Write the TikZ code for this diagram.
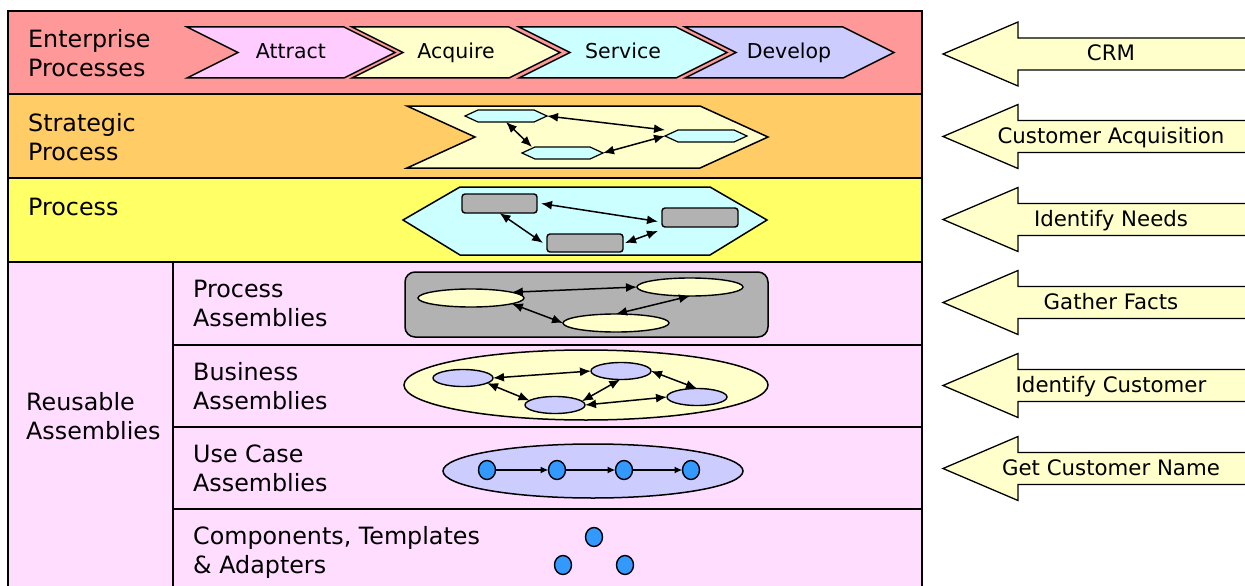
\documentclass[tikz,border=0pt]{standalone}
\usepackage{fontspec}
\setmainfont{DejaVu Sans}
\usetikzlibrary{shapes.geometric,arrows.meta}

\definecolor{entred}{RGB}{255,153,153}
\definecolor{stratorange}{RGB}{255,204,102}
\definecolor{procyellow}{RGB}{255,255,102}
\definecolor{reusepink}{RGB}{255,221,255}
\definecolor{paleyellow}{RGB}{255,255,204}
\definecolor{palecyan}{RGB}{204,255,255}
\definecolor{palepink}{RGB}{255,204,255}
\definecolor{paleblue}{RGB}{204,204,255}
\definecolor{midgray}{RGB}{178,178,178}
\definecolor{dotblue}{RGB}{51,153,255}

% chevron: left x, top y, bottom y, width, point depth, fill
\newcommand{\drawchevron}[6]{%
  \draw[outline, fill=#6] (#1,#2) -- ({#1+#4-#5},#2) -- ({#1+#4},{(#2+#3)/2})
    -- ({#1+#4-#5},#3) -- (#1,#3) -- ({#1+#5},{(#2+#3)/2}) -- cycle;}

% small hexagon node: name, centre x, centre y, width, inset
\newcommand{\hexnode}[5]{%
  \node[hexbox, minimum width=#4pt, minimum height=12pt] (#1) at (#2,#3) {};
  \draw[outline, line width=1.2pt, fill=palecyan] (#1.west) -- ([xshift=#5pt]#1.north west)
    -- ([xshift=-#5pt]#1.north east) -- (#1.east) -- ([xshift=-#5pt]#1.south east)
    -- ([xshift=#5pt]#1.south west) -- cycle;}

% left-pointing block arrow centred at height #1
\newcommand{\sidearrow}[1]{%
  \draw[outline, line width=1.3pt, fill=paleyellow] (943,#1) -- (1018,{#1-32}) -- (1018,{#1-16})
    -- (1260,{#1-16}) -- (1260,{#1+16}) -- (1018,{#1+16}) -- (1018,{#1+32}) -- cycle;}

\begin{document}
\begin{tikzpicture}[x=1pt,y=-1pt,
  rowframe/.style={draw=black, line width=2pt},
  outline/.style={draw=black, line width=1.5pt, line join=miter},
  rowlabel/.style={font=\fontsize{23.8}{29}\selectfont, align=left, anchor=north west, inner sep=0pt},
  steplabel/.style={font=\fontsize{20.5}{25}\selectfont, inner sep=0pt, text height=15pt, text depth=4pt},
  sidelabel/.style={font=\fontsize{21.3}{25}\selectfont, inner sep=0pt, text height=15.5pt, text depth=4pt},
  hexbox/.style={inner sep=0pt, outer sep=0pt},
  box/.style={draw, line width=1.4pt, fill=midgray, rounded corners=3pt, inner sep=0pt, outer sep=0pt},
  oval/.style={ellipse, draw, line width=1.4pt, inner sep=0pt, outer sep=0pt},
  dot/.style={ellipse, draw, line width=1.4pt, fill=dotblue, minimum width=17pt, minimum height=19pt, inner sep=0pt, outer sep=0pt},
  link/.style={line width=1.5pt, {Latex[length=11pt,width=9pt]}-{Latex[length=11pt,width=9pt]}},
  flow/.style={line width=1.5pt, -{Latex[length=8pt,width=7pt]}}]
\useasboundingbox (0,0) rectangle (1245,586);
\begin{scope}
\clip (0,0) rectangle (1245,586);

% layer bands
\draw[rowframe, fill=entred] (8,11) rectangle (922,94);
\draw[rowframe, fill=stratorange] (8,94) rectangle (922,178);
\draw[rowframe, fill=procyellow] (8,178) rectangle (922,262);
\draw[rowframe, fill=reusepink] (8,262) rectangle (922,600);
\draw[rowframe] (173,262) -- (173,600);
\draw[rowframe] (173,345) -- (922,345);
\draw[rowframe] (173,427) -- (922,427);
\draw[rowframe] (173,509) -- (922,509);

% layer names
\node[rowlabel] (lent) at (28,29.5) {Enterprise\\Processes};
\node[rowlabel] (lstr) at (28,113.5) {Strategic\\Process};
\node[rowlabel] (lproc) at (28,197.5) {Process};
\node[rowlabel] (lreu) at (26,392) {Reusable\\Assemblies};
\node[rowlabel] (lpa) at (193,280) {Process\\Assemblies};
\node[rowlabel] (lba) at (193,362.5) {Business\\Assemblies};
\node[rowlabel] (lua) at (193,445) {Use Case\\Assemblies};
\node[rowlabel] (lcta) at (193,526.5) {Components, Templates\\\& Adapters};

% enterprise value chain
\drawchevron{187}{27}{78}{208}{51}{palepink}
\drawchevron{352}{27}{78}{208}{51}{paleyellow}
\drawchevron{519}{27}{78}{208}{51}{palecyan}
\drawchevron{685}{27}{78}{209}{51}{paleblue}
\node[steplabel] (attract) at (291,53) {Attract};
\node[steplabel] (acquire) at (456,53) {Acquire};
\node[steplabel] (service) at (623,53) {Service};
\node[steplabel] (develop) at (789,53) {Develop};

% strategic process
\drawchevron{407}{106}{168}{361}{68}{paleyellow}
\hexnode{h1}{506}{116}{82}{13}
\hexnode{h2}{562.5}{153}{81}{13}
\hexnode{h3}{706}{136}{82}{13}
\draw[link] (h1.east) -- (h3.north west);
\draw[link] (h1.south) -- ([xshift=10pt]h2.north west);
\draw[link] (h2.east) -- (h3.west);

% process
\draw[outline, fill=palecyan] (403,220) -- (460,187) -- (710,187) -- (767,220) -- (710,255) -- (460,255) -- cycle;
\node[box, minimum width=75pt, minimum height=19pt] (r1) at (499.5,203.5) {};
\node[box, minimum width=76pt, minimum height=19pt] (r2) at (700,217.5) {};
\node[box, minimum width=76pt, minimum height=18pt] (r3) at (585,243) {};
\draw[link] ([xshift=4pt]r1.east) -- ([xshift=-4pt,yshift=-4pt]r2.west);
\draw[link] (r1.south) -- ([xshift=-4pt]r3.west);
\draw[link] ([xshift=2pt]r3.east) -- ([xshift=-4pt,yshift=-4pt]r2.south west);

% process assemblies
\node[draw, line width=1.5pt, fill=midgray, rounded corners=10pt, minimum width=363pt, minimum height=65pt, inner sep=0pt] (pa) at (586.5,304.5) {};
\node[oval, fill=paleyellow, minimum width=106pt, minimum height=18pt] (e1) at (471,298) {};
\node[oval, fill=paleyellow, minimum width=106pt, minimum height=18pt] (e2) at (690,287) {};
\node[oval, fill=paleyellow, minimum width=106pt, minimum height=18pt] (e3) at (616,323) {};
\draw[link] (e1.8) -- (e2.west);
\draw[link] (e1.-8) -- (e3.west);
\draw[link] (e3.north) -- (e2.south);

% business assemblies
\node[oval, line width=1.5pt, fill=paleyellow, minimum width=364pt, minimum height=70pt] (ba) at (586,385) {};
\node[oval, fill=paleblue, minimum width=60pt, minimum height=17pt] (b1) at (463,378) {};
\node[oval, fill=paleblue, minimum width=60pt, minimum height=17pt] (b2) at (621,371) {};
\node[oval, fill=paleblue, minimum width=60pt, minimum height=17pt] (b3) at (555,405) {};
\node[oval, fill=paleblue, minimum width=60pt, minimum height=17pt] (b4) at (697,397) {};
\draw[link] (b1.east) -- (b2.west);
\draw[link] (b1.-12) -- (b3.170);
\draw[link] (b3.8) -- (b2.265);
\draw[link] (b3.east) -- (b4.west);
\draw[link] (b2.east) -- (b4.north);

% use case assemblies
\node[oval, line width=1.5pt, fill=paleblue, minimum width=300pt, minimum height=54pt] (ua) at (593,471) {};
\node[dot] (c1) at (487,470) {};
\node[dot] (c2) at (557,470) {};
\node[dot] (c3) at (624,470) {};
\node[dot] (c4) at (691,470) {};
\draw[flow] (c1.east) -- (c2.west);
\draw[flow] (c2.east) -- (c3.west);
\draw[flow] (c3.east) -- (c4.west);

% components, templates and adapters
\node[dot] (k1) at (594,537) {};
\node[dot] (k2) at (563,565) {};
\node[dot] (k3) at (625,565) {};

% example at each level
\sidearrow{54}
\sidearrow{136.5}
\sidearrow{219.5}
\sidearrow{302.5}
\sidearrow{385.5}
\sidearrow{468.5}
\node[sidelabel] (crm) at (1111,55) {CRM};
\node[sidelabel] (custacq) at (1111,137.5) {Customer Acquisition};
\node[sidelabel] (needs) at (1111,220.5) {Identify Needs};
\node[sidelabel] (facts) at (1111,303.5) {Gather Facts};
\node[sidelabel] (idcust) at (1111,386.5) {Identify Customer};
\node[sidelabel] (custname) at (1111,469.5) {Get Customer Name};
\end{scope}
\end{tikzpicture}
\end{document}
